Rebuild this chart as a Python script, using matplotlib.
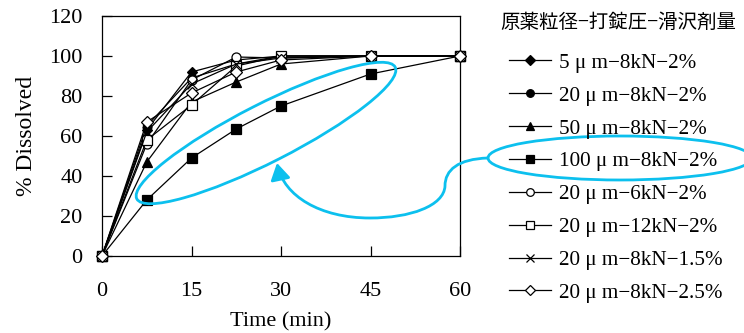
import numpy as np
import matplotlib.pyplot as plt
from matplotlib.patches import Ellipse, FancyArrowPatch
from matplotlib.path import Path

# dissolution data (time in min, % dissolved)
time = [0, 7.5, 15, 22.5, 30, 45, 60]
labels = ["5 μ m−8kN−2%", "20 μ m−8kN−2%", "50 μ m−8kN−2%", "100 μ m−8kN−2%",
          "20 μ m−6kN−2%", "20 μ m−12kN−2%", "20 μ m−8kN−1.5%", "20 μ m−8kN−2.5%"]
d_5um = [0, 63, 92, 98, 100, 100, 100]
d_20um = [0, 65, 89, 96, 100, 100, 100]
d_50um = [0, 47, 77, 87, 96, 100, 100]
d_100um = [0, 28, 49, 63.5, 75, 91, 100]
d_6kn = [0, 56, 88, 99.5, 99, 100, 100]
d_12kn = [0, 58, 75.5, 95, 100, 100, 100]
d_15pct = [0, 62, 86, 96, 99, 100, 100]
d_25pct = [0, 67, 81.5, 92, 98, 100, 100]
series = [d_5um, d_20um, d_50um, d_100um, d_6kn, d_12kn, d_15pct, d_25pct]

styles = [("D", "black", 5), ("o", "black", 6), ("^", "black", 6.5), ("s", "black", 6.5),
          ("o", "white", 6.5), ("s", "white", 7), ("x", "black", 7), ("D", "white", 6)]

serif = ["Liberation Serif", "Noto Sans CJK JP"]
plt.rcParams["font.family"] = serif

fig = plt.figure(figsize=(7.44, 3.33), dpi=100)
ax = fig.add_axes([102 / 744, 1 - 256 / 333, 358 / 744, 240 / 333])

for y, lab, (m, fc, ms) in zip(series, labels, styles):
    ax.plot(time, y, color="black", lw=0.9, marker=m, markersize=ms,
            markerfacecolor=fc, markeredgecolor="black", markeredgewidth=0.9,
            label=lab, clip_on=False, zorder=3)

ax.set_xlim(0, 60)
ax.set_ylim(0, 120)
ax.set_xticks([0, 15, 30, 45, 60])
ax.set_yticks(range(0, 121, 20))
ax.tick_params(direction="in", length=7, width=0.9, labelsize=16, colors="black")
ax.tick_params(axis="y", pad=14)
ax.tick_params(axis="x", pad=19)
for s in ax.spines.values():
    s.set_linewidth(0.9)
ax.set_xlabel("Time (min)", fontsize=16, labelpad=8)
ax.set_ylabel("% Dissolved", fontsize=17, labelpad=9)

fig.text(500 / 744, 1 - 22 / 333, "原薬粒径−打錠圧−滑沢剤量", ha="left", va="center",
         family=["Noto Sans CJK JP"], fontsize=14)
leg = fig.legend(loc="upper left", bbox_to_anchor=(509 / 744, 1 - 53 / 333),
                 frameon=False, fontsize=15.2, handlelength=2.0, handletextpad=0.35,
                 labelspacing=0.62, borderpad=0, borderaxespad=0)
for h in leg.legend_handles:
    h.set_markersize(5.5)

# cyan highlight annotations, drawn in pixel space
ov = fig.add_axes([0, 0, 1, 1], zorder=5)
ov.set_xlim(0, 744)
ov.set_ylim(333, 0)
ov.axis("off")
cyan = "#0cc0ee"
ov.add_patch(Ellipse((266, 133), 290, 58, angle=-27, fill=False, ec=cyan, lw=2))
ov.add_patch(Ellipse((620, 158), 264, 44, fill=False, ec=cyan, lw=2))
verts = [(488, 158), (458, 159), (445, 170), (445, 186),
         (444, 206), (410, 218), (370, 218),
         (320, 218), (284, 196), (277, 163)]
codes = [Path.MOVETO] + [Path.CURVE4] * 9
ov.add_patch(FancyArrowPatch(path=Path(verts, codes), arrowstyle="-|>,head_length=10,head_width=6",
                             color=cyan, lw=2))

fig.savefig("out.png", dpi=100)
